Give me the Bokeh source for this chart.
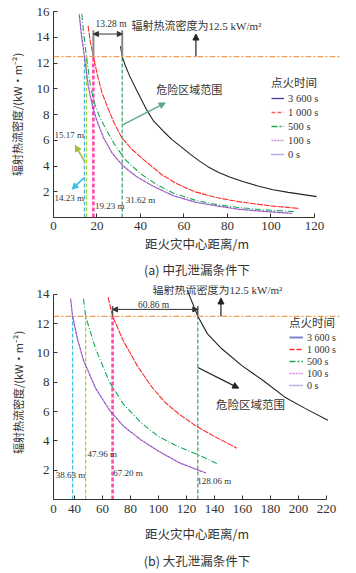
from bokeh.plotting import figure
from bokeh.models import (Legend, LegendItem, Label, Arrow, NormalHead,
                          Title, FixedTicker, ColumnDataSource, Span)
from bokeh.layouts import column
from bokeh.embed import file_html
from bokeh.resources import INLINE

# ---------------- data: (a) medium hole ----------------
a_x_3600 = [30.8, 31.62, 33, 35, 38.2, 42.7, 46, 50.5, 54.5, 58.6, 63, 67, 71, 76, 81, 87, 94, 101, 108, 115, 121]
a_y_3600 = [13.3, 12.5, 11.8, 11.0, 9.9, 8.4, 7.5, 6.7, 6.05, 5.5, 4.9, 4.4, 3.95, 3.5, 3.15, 2.8, 2.45, 2.15, 1.95, 1.78, 1.62]
a_x_1000 = [15.9, 17, 18.34, 20, 22.3, 25, 28, 31.4, 36, 41.4, 50, 57, 65, 75, 85, 100, 113]
a_y_1000 = [14.9, 13.6, 12.5, 11.2, 9.7, 8.5, 7.3, 6.2, 5.3, 4.5, 3.3, 2.6, 2.0, 1.55, 1.23, 0.9, 0.7]
a_x_500 = [13, 14, 15.17, 17, 19, 21, 24, 28, 33, 40, 48, 55, 65, 75, 85, 95, 110.5]
a_y_500 = [15.8, 14.1, 12.5, 10.2, 8.8, 7.9, 6.9, 5.7, 4.5, 3.4, 2.5, 1.9, 1.35, 1.0, 0.78, 0.62, 0.46]
a_x_0 = [11.8, 13, 14.23, 16, 18, 20, 23, 27, 32, 38, 45, 55, 65, 75, 85, 95, 109.5]
a_y_0 = [15.8, 14.0, 12.5, 10.2, 8.6, 7.5, 6.2, 5.0, 4.0, 3.2, 2.5, 1.7, 1.2, 0.9, 0.65, 0.5, 0.32]
a_x_100 = a_x_0
a_y_100 = a_y_0
a_cross = [14.23, 15.17, 18.34, 31.62]
a_cross_labels = ["14.23 m", "15.17 m", "19.23 m", "31.62 m"]
a_gap_label = "13.28 m"
a_xticks = [0, 20, 40, 60, 80, 100, 120]
a_yticks = [2, 4, 6, 8, 10, 12, 14, 16]

# ---------------- data: (b) large hole ----------------
b_x_3600 = [120.5, 128.06, 135, 145, 160, 175, 190, 205, 221]
b_y_3600 = [14.3, 12.5, 11.3, 10.3, 9.1, 8.1, 7.0, 6.2, 5.4]
b_x_1000 = [64, 67.2, 75, 85, 95, 105, 115, 127, 140, 156]
b_y_1000 = [13.8, 12.5, 10.8, 9.1, 7.7, 6.6, 5.8, 5.0, 4.3, 3.5]
b_x_500 = [46.4, 47.96, 55, 65, 75, 88, 100, 112, 127, 142]
b_y_500 = [13.7, 12.5, 10.3, 8.0, 6.5, 5.2, 4.3, 3.7, 3.1, 2.45]
b_x_0 = [37.2, 38.63, 42, 46.4, 55, 65, 75, 87, 100, 115, 134]
b_y_0 = [13.7, 12.5, 11.0, 9.5, 7.6, 6.1, 5.0, 4.1, 3.3, 2.5, 1.8]
b_x_100 = b_x_0
b_y_100 = b_y_0
b_cross = [38.63, 47.96, 67.20, 128.06]
b_cross_labels = ["38.63 m", "47.96 m", "67.20 m", "128.06 m"]
b_gap_label = "60.86 m"
b_xticks = [25, 40, 60, 80, 100, 120, 140, 160, 180, 200, 220]
b_yticks = [2, 4, 6, 8, 10, 12, 14]

threshold = 12.5
legend_title = "点火时间"
legend_labels = ["3 600 s", "1 000 s", "500 s", "100 s", "0 s"]
ytitle = "辐射热流密度/(kW·m⁻²)"
xtitle = "距火灾中心距离/m"
thr_text = "辐射热流密度为12.5 kW/m²"
danger_text = "危险区域范围"

SERIF = "Liberation Serif, Noto Sans CJK SC"
CJK = "Noto Sans CJK SC"
NAN = float("nan")

cross_colors = ["#3cbcec", "#b0cc30", "#ff4aa8", "#66b08c"]
cross_widths = [1.3, 1.3, 2.6, 1.5]


def style_axes(p, xticks, yticks, bounds_x, bounds_y, ylab_standoff,
               xl_standoff, xal_standoff):
    p.xaxis.ticker = FixedTicker(ticks=xticks)
    p.yaxis.ticker = FixedTicker(ticks=yticks)
    p.xaxis.bounds = bounds_x
    p.yaxis.bounds = bounds_y
    for ax in (p.xaxis[0], p.yaxis[0]):
        ax.axis_line_color = "#333333"
        ax.major_tick_line_color = "#333333"
        ax.major_tick_in = 4
        ax.major_tick_out = 0
        ax.minor_tick_line_color = None
        ax.major_label_text_font = SERIF
        ax.major_label_text_font_size = "13px"
        ax.major_label_text_color = "#333333"
        ax.axis_label_text_font = CJK
        ax.axis_label_text_font_style = "normal"
        ax.axis_label_text_color = "#333333"
    p.xaxis.major_label_standoff = xl_standoff
    p.yaxis.major_label_standoff = 4
    p.xaxis.axis_label = xtitle
    p.xaxis.axis_label_text_font_size = "12.5px"
    p.xaxis.axis_label_standoff = xal_standoff
    p.yaxis.axis_label = ytitle
    p.yaxis.axis_label_text_font_size = "11px"
    p.yaxis.axis_label_standoff = ylab_standoff
    p.grid.visible = False
    p.outline_line_color = None


def add_curves(p, xs, ys):
    (x3, x1, x5, x10, x0) = xs
    (y3, y1, y5, y10, y0) = ys
    p.line(x3, y3, line_color="#222222", line_width=1.1)
    p.line(x1, y1, line_color="#ff2a2a", line_width=1.1, line_dash="6 1")
    p.line(x5, y5, line_color="#13aa55", line_width=1.1, line_dash="6 2 1 2")
    p.line(x10, y10, line_color="#c45fc8", line_width=1.2, line_dash="2 2")
    p.line(x0, y0, line_color="#7050c4", line_width=1.2, line_dash="2 2",
           line_dash_offset=2)


def add_cross(p, cross):
    src = ColumnDataSource(dict(x=cross, y0=[0] * len(cross),
                                y1=[threshold] * len(cross),
                                c=cross_colors, w=cross_widths))
    p.segment(x0="x", y0="y0", x1="x", y1="y1", source=src, line_color="c",
              line_width="w", line_dash="4 2")
    p.add_layout(Span(location=threshold, dimension="width", line_color="#f0a050",
                      line_width=1.2, line_dash="6 2 2 2"))


def add_legend(p, styles, loc, glyph_w, label_h, fs):
    items = []
    for lab, st in zip(legend_labels, styles):
        r = p.line([NAN], [NAN], **st)
        items.append(LegendItem(label=lab, renderers=[r]))
    leg = Legend(items=items, location=loc, title=legend_title,
                 title_text_font=CJK, title_text_font_size="11.5px",
                 title_text_font_style="normal", title_text_color="#333333",
                 title_standoff=1,
                 label_text_font=SERIF, label_text_font_size=fs,
                 label_text_color="#333333",
                 glyph_width=glyph_w, glyph_height=label_h, label_height=label_h,
                 label_standoff=4, spacing=0, padding=0, margin=0,
                 border_line_color=None, background_fill_alpha=0)
    p.add_layout(leg)


def txt(p, x, y, s, size="9px", font=SERIF, align="left"):
    p.add_layout(Label(x=x, y=y, text=s, text_font=font, text_font_size=size,
                       text_color="#333333", text_baseline="middle", text_align=align))


def arrow(p, x0, y0, x1, y1, color, width=1.2, both=False, size=6):
    p.add_layout(Arrow(x_start=x0, y_start=y0, x_end=x1, y_end=y1,
                       line_color=color, line_width=width,
                       end=NormalHead(size=size, fill_color=color, line_color=color),
                       start=NormalHead(size=size, fill_color=color, line_color=color) if both else None))


# ================= figure (a) =================
pa = figure(width=356, height=280, x_range=(0, 132), y_range=(0, 16),
            output_backend="svg", toolbar_location=None,
            min_border_left=49, min_border_right=16, min_border_top=11,
            min_border_bottom=61)
style_axes(pa, a_xticks, a_yticks, (0, 120), (0, 16), 9, 4, 1)
add_cross(pa, a_cross)
add_curves(pa, [a_x_3600, a_x_1000, a_x_500, a_x_100, a_x_0],
           [a_y_3600, a_y_1000, a_y_500, a_y_100, a_y_0])

# dimension marker
pa.segment(x0=[a_cross[2], a_cross[3]], y0=[threshold, threshold],
           x1=[a_cross[2], a_cross[3]], y1=[14.55, 14.55], line_color="#888888", line_width=2)
arrow(pa, a_cross[2], 14.25, a_cross[3], 14.25, "#333333", width=1, both=True, size=5)
txt(pa, 19.3, 15.0, a_gap_label, size="9.5px")
arrow(pa, 65.5, threshold, 65.5, 14.25, "#222222", width=1.2, size=6)
txt(pa, 35.9, 14.85, thr_text, size="11px", font=SERIF)
txt(pa, 47.3, 9.95, danger_text, size="11px", font=CJK)
arrow(pa, 31.8, 7.2, 51.4, 8.9, "#5aaa82", width=1.4, size=6)
arrow(pa, 14.5, 4.3, 10.0, 5.6, "#a4bc3c", width=1.6, size=6)
arrow(pa, 14.1, 3.1, 8.6, 2.2, "#3cbcec", width=1.6, size=6)
txt(pa, 0.5, 6.4, a_cross_labels[1])
txt(pa, 0.5, 1.5, a_cross_labels[0])
txt(pa, 19.1, 0.9, a_cross_labels[2])
txt(pa, 33.2, 1.35, a_cross_labels[3])

a_leg_styles = [dict(line_color="#3c3c9c", line_width=1.3),
                dict(line_color="#ff6060", line_width=1.3, line_dash="4 2"),
                dict(line_color="#22aa44", line_width=1.3, line_dash="6 2 2 2"),
                dict(line_color="#cc88dd", line_width=1.3, line_dash="2 1"),
                dict(line_color="#6060cc", line_width=1.3, line_dash="1 1")]
add_legend(pa, a_leg_styles, (218, 56), 13, 14, "10.5px")
pa.add_layout(Title(text="(a) 中孔泄漏条件下", align="center", text_font=CJK,
                    text_font_size="12.5px", text_font_style="normal",
                    text_color="#333333", standoff=4), "below")

# ================= figure (b) =================
pb = figure(width=356, height=293, x_range=(25, 230), y_range=(0, 14.6),
            output_backend="svg", toolbar_location=None,
            min_border_left=53, min_border_right=13, min_border_top=5,
            min_border_bottom=63)
style_axes(pb, b_xticks, b_yticks, (25, 220), (0, 14), 8, 5, 8)
pb.xaxis.major_label_overrides = {25: "0"}
add_cross(pb, b_cross)
add_curves(pb, [b_x_3600, b_x_1000, b_x_500, b_x_100, b_x_0],
           [b_y_3600, b_y_1000, b_y_500, b_y_100, b_y_0])

pb.segment(x0=[b_cross[2], b_cross[3]], y0=[threshold, threshold],
           x1=[b_cross[2], b_cross[3]], y1=[13.2, 13.2], line_color="#555555", line_width=1.5)
arrow(pb, b_cross[2], 12.97, b_cross[3], 12.97, "#333333", width=1, both=True, size=5)
txt(pb, 96.5, 13.3, b_gap_label, size="9.5px", align="center")
arrow(pb, 144.6, threshold, 144.6, 13.75, "#222222", width=1.2, size=6)
txt(pb, 95.8, 14.3, thr_text, size="11px", font=SERIF)
txt(pb, 141, 6.5, danger_text, size="11.5px", font=CJK)
arrow(pb, b_cross[3], 9.0, 157.3, 7.6, "#222222", width=1.2, size=6)
txt(pb, 49.2, 3.1, b_cross_labels[1])
txt(pb, 26.6, 1.68, b_cross_labels[0])
txt(pb, 67.6, 1.8, b_cross_labels[2])
txt(pb, 127.6, 1.23, b_cross_labels[3])

b_leg_styles = [dict(line_color="#8080cc", line_width=2),
                dict(line_color="#ff3030", line_width=1.3, line_dash="5 2"),
                dict(line_color="#22aa55", line_width=1.3, line_dash="6 2 2 2"),
                dict(line_color="#dd88dd", line_width=1.3, line_dash="2 1"),
                dict(line_color="#7070dd", line_width=1.3, line_dash="1 1")]
add_legend(pb, b_leg_styles, (236, 108), 14, 12, "10px")
pb.add_layout(Title(text="(b) 大孔泄漏条件下", align="center", text_font=CJK,
                    text_font_size="12.5px", text_font_style="normal",
                    text_color="#333333", standoff=7), "below")

layout = column(pa, pb, spacing=0)
open("out.html", "w").write(file_html(layout, INLINE))
